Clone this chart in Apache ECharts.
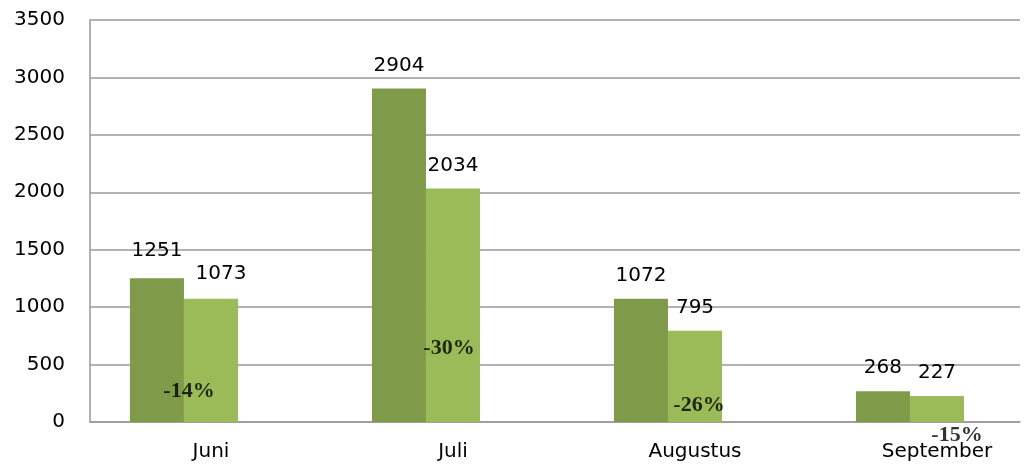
<!DOCTYPE html>
<html>
<head>
<meta charset="utf-8">
<script src="https://cdn.jsdelivr.net/npm/echarts@6/dist/echarts.min.js"></script>
<style>
  html, body { margin: 0; padding: 0; background: #fff; }
  #chart { width: 1029px; height: 470px; }
</style>
</head>
<body>
<div id="chart"></div>
<script>
// data
const months = ['Juni', 'Juli', 'Augustus', 'September']
const prevValues = [1251, 2904, 1072, 268]
const currValues = [1073, 2034, 795, 227]
const changeLabels = ['-14%', '-30%', '-26%', '-15%']
const yTicks = [0, 500, 1000, 1500, 2000, 2500, 3000, 3500]

// where the % labels sit: [x shift from category centre (px), height in axis units]
const changePos = [[-22, 270], [-4, 640], [4, 144], [20, -118]]

const chart = echarts.init(document.getElementById('chart'), null, { renderer: 'canvas' })

const font = 'DejaVu Sans'
const yMin = yTicks[0]
const yMax = yTicks[yTicks.length - 1]
const yStep = yTicks[1] - yTicks[0]

const option = {
  animation: false,
  grid: [
    // bars (the original chart is cut off on the right)
    { left: 90, top: 20, width: 968, height: 402, outerBoundsMode: 'none' },
    // grid lines / axes
    { left: 90, top: 20, width: 930, height: 402, outerBoundsMode: 'none' }
  ],
  xAxis: [
    {
      gridIndex: 0,
      type: 'category',
      data: months,
      axisLine: { show: false },
      axisTick: { show: false },
      axisLabel: { fontFamily: font, fontSize: 20, color: '#000', margin: 20 }
    },
    {
      gridIndex: 1,
      type: 'value',
      show: true,
      axisLine: { show: true, lineStyle: { color: '#999', width: 1.5 } },
      axisTick: { show: false },
      axisLabel: { show: false },
      splitLine: { show: false }
    }
  ],
  yAxis: [
    {
      gridIndex: 0,
      type: 'value',
      min: yMin, max: yMax, interval: yStep,
      show: false
    },
    {
      gridIndex: 1,
      type: 'value',
      min: yMin, max: yMax, interval: yStep,
      axisLine: { show: true, lineStyle: { color: '#999', width: 1.5 } },
      axisTick: { show: false },
      axisLabel: {
        fontFamily: font, fontSize: 20, color: '#000', margin: 25,
        formatter: v => String(v)
      },
      splitLine: { show: true, lineStyle: { color: '#999', width: 1.5 } }
    }
  ],
  series: [
    {
      type: 'bar',
      name: 'prev',
      data: prevValues.map((v, i) => ({
        value: v,
        label: i === 0 ? { offset: [0, -5] } : {}
      })),
      barGap: 0,
      barCategoryGap: '33%',
      itemStyle: { color: '#7f9b4a' },
      label: { show: true, position: 'top', distance: 13, fontFamily: font, fontSize: 20, color: '#000' }
    },
    {
      type: 'bar',
      name: 'curr',
      data: currValues.map((v, i) => ({
        value: v,
        label: i === 0 ? { offset: [10, -2] } : {}
      })),
      barGap: 0,
      barCategoryGap: '33%',
      itemStyle: { color: '#9bbb59' },
      label: { show: true, position: 'top', distance: 13, fontFamily: font, fontSize: 20, color: '#000' }
    },
    {
      // empty third slot, keeps the bars shifted left like the original
      type: 'bar',
      name: 'spacer',
      data: months.map(() => '-'),
      barGap: 0,
      barCategoryGap: '33%'
    },
    {
      type: 'scatter',
      name: 'change',
      clip: false,
      symbolSize: 0,
      z: 5,
      data: changeLabels.map((t, i) => ({
        value: [months[i], changePos[i][1]],
        label: { show: true, formatter: t, offset: [changePos[i][0], 0] }
      })),
      label: {
        position: 'inside',
        fontFamily: '"Liberation Serif", "DejaVu Serif", serif',
        fontWeight: 'bold',
        fontSize: 22,
        color: '#000'
      }
    }
  ]
}

chart.setOption(option)
</script>
</body>
</html>
